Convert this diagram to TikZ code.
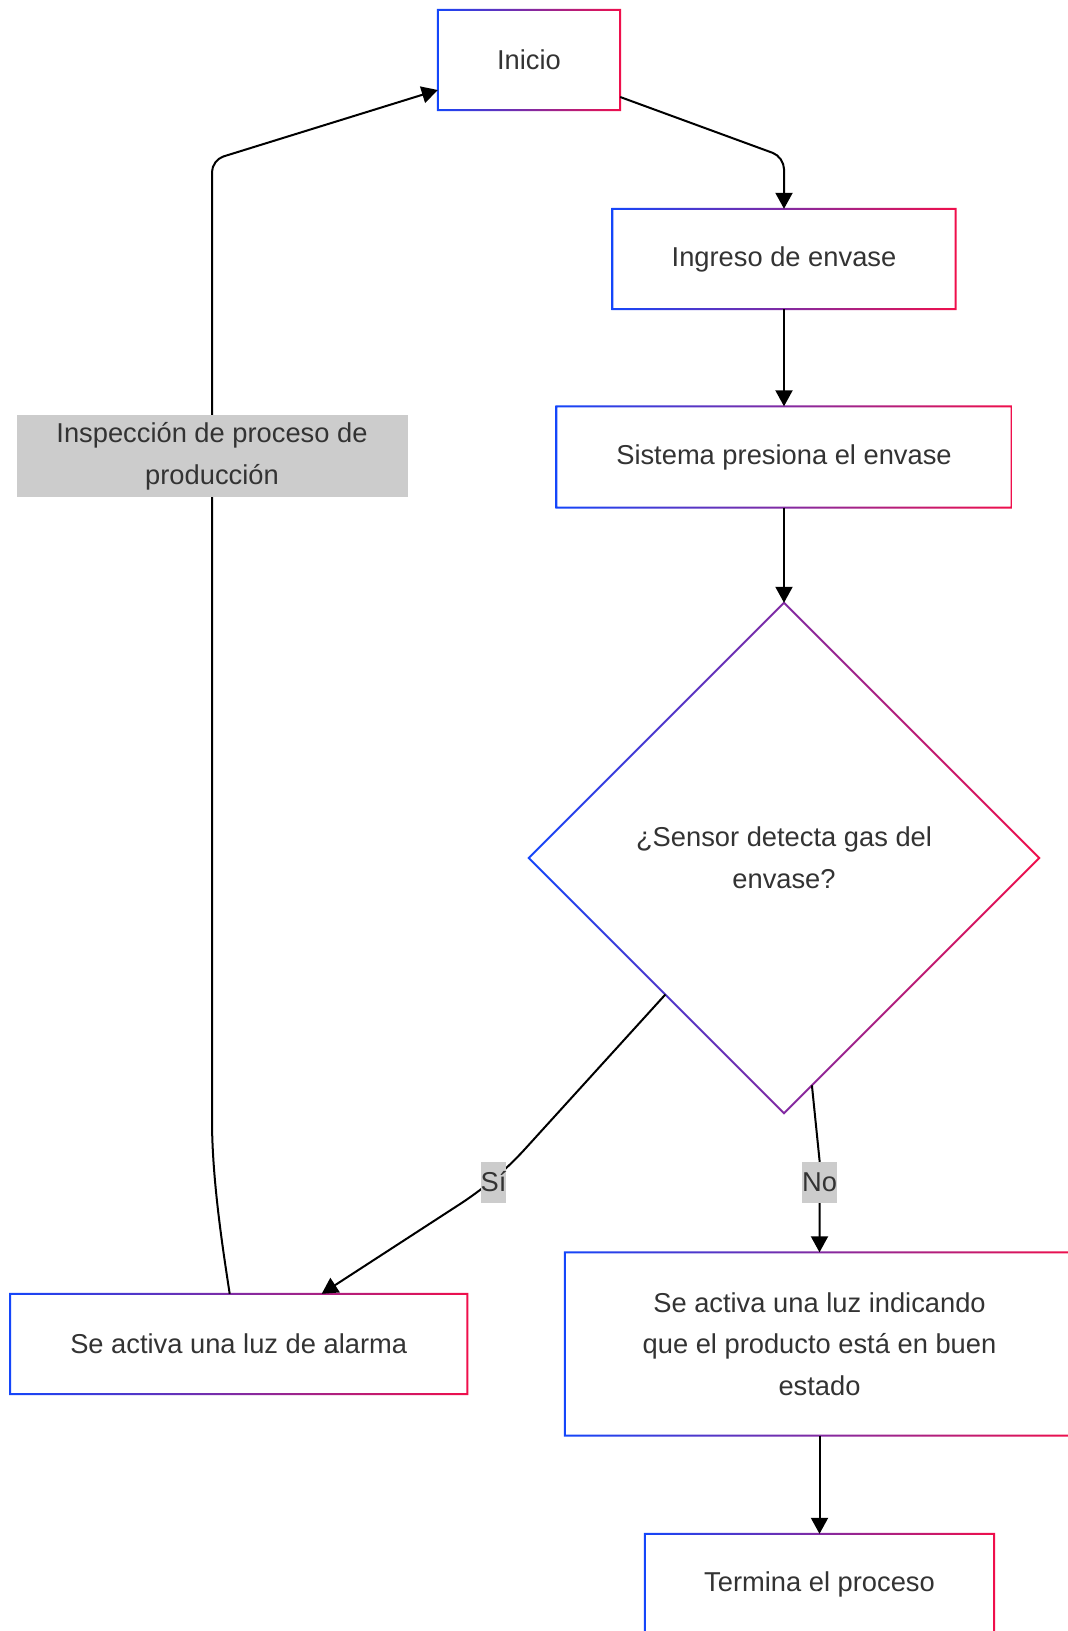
\documentclass[tikz,border=0pt]{standalone}
\usepackage{fontspec}
\setmainfont{Liberation Sans}
\usetikzlibrary{shapes.geometric,arrows.meta}

\definecolor{gblue}{RGB}{20,70,250}
\definecolor{gred}{RGB}{240,15,75}
\definecolor{txtgray}{HTML}{333333}
\definecolor{lblgray}{HTML}{CCCCCC}
\newcommand{\flowfont}{\fontsize{27.3}{41.6}\selectfont}

% gradient border round a box / a diamond
\newcommand{\gradbox}[1]{%
  \shade[left color=gblue, right color=gred, even odd rule]
    ([shift={(-1pt,-1pt)}]#1.south west) rectangle ([shift={(1pt,1pt)}]#1.north east)
    ([shift={(1pt,1pt)}]#1.south west) rectangle ([shift={(-1pt,-1pt)}]#1.north east);}
\newcommand{\graddiamond}[1]{%
  \shade[left color=gblue, right color=gred, even odd rule]
    ([yshift=1.4pt]#1.north) -- ([xshift=1.4pt]#1.east) -- ([yshift=-1.4pt]#1.south) -- ([xshift=-1.4pt]#1.west) -- cycle
    ([yshift=-1.4pt]#1.north) -- ([xshift=-1.4pt]#1.east) -- ([yshift=1.4pt]#1.south) -- ([xshift=1.4pt]#1.west) -- cycle;}

\begin{document}
\begin{tikzpicture}[x=1pt, y=-1pt,
    proc/.style={rectangle, fill=white, minimum height=100pt, inner sep=0pt, align=center, text=txtgray, font=\flowfont},
    decision/.style={diamond, aspect=1, fill=white, minimum width=510pt, minimum height=510pt, inner sep=0pt, align=center, text=txtgray, font=\flowfont},
    edgelbl/.style={fill=lblgray, inner sep=0pt, minimum height=41pt, align=center, text=txtgray, font=\flowfont},
    flow/.style={draw=black, line width=2pt, -{Triangle[length=16pt,width=17pt]}}]
    \useasboundingbox (0,0) rectangle (1068,1631);

    % steps
    \node[proc, minimum width=182pt] (inicio) at (529,60) {Inicio};
    \node[proc, minimum width=343pt] (ingreso) at (784,259) {Ingreso de envase};
    \node[proc, minimum width=455pt, minimum height=101pt] (sistema) at (784,457) {Sistema presiona el envase};
    \node[decision] (sensor) at (784,858) {¿Sensor detecta gas del\\envase?};
    \node[proc, minimum width=457pt] (alarma) at (238.7,1344) {Se activa una luz de alarma};
    \node[proc, minimum width=509pt, minimum height=183pt] (buen) at (819.5,1344) {Se activa una luz indicando\\que el producto está en buen\\estado};
    \node[proc, minimum width=349pt] (termina) at (819.5,1584) {Termina el proceso};

    \foreach \n in {inicio,ingreso,sistema,alarma,buen,termina} {\gradbox{\n}}
    \graddiamond{sensor}

    % bends
    \coordinate (topbend) at (784,157);
    \coordinate (sibend1) at (525,1149);
    \coordinate (sibend2) at (457,1206);
    \coordinate (nobend) at (819.5,1160);
    \coordinate (loopbot) at (212,1120);
    \coordinate (loopcorner) at (212,160);

    % connectors
    \draw[flow, rounded corners=12pt] ([yshift=-37pt]inicio.east) -- (topbend) -- (ingreso.north);
    \draw[flow] (ingreso) -- (sistema);
    \draw[flow] (sistema) -- (sensor);
    \draw[flow] (sensor.-131.3) -- (sibend1) .. controls (505,1171) and (482,1190) .. (sibend2) -- ([xshift=83pt]alarma.north);
    \draw[flow] (sensor.-83.5) -- (nobend) -- (buen.north);
    \draw[flow] (buen) -- (termina);
    \draw[flow] ([xshift=-9pt]alarma.north) .. controls (223,1250) and (212,1180) .. (loopbot)
        [rounded corners=12pt] -- (loopcorner) -- ([yshift=-30pt]inicio.west);

    % labels
    \node[edgelbl, minimum width=391pt, minimum height=82pt] (lblinsp) at (212,456) {Inspección de proceso de\\producción};
    \node[edgelbl] (lblsi) at (493.5,1182) {Sí};
    \node[edgelbl] (lblno) at (819.5,1182) {No};
\end{tikzpicture}
\end{document}
